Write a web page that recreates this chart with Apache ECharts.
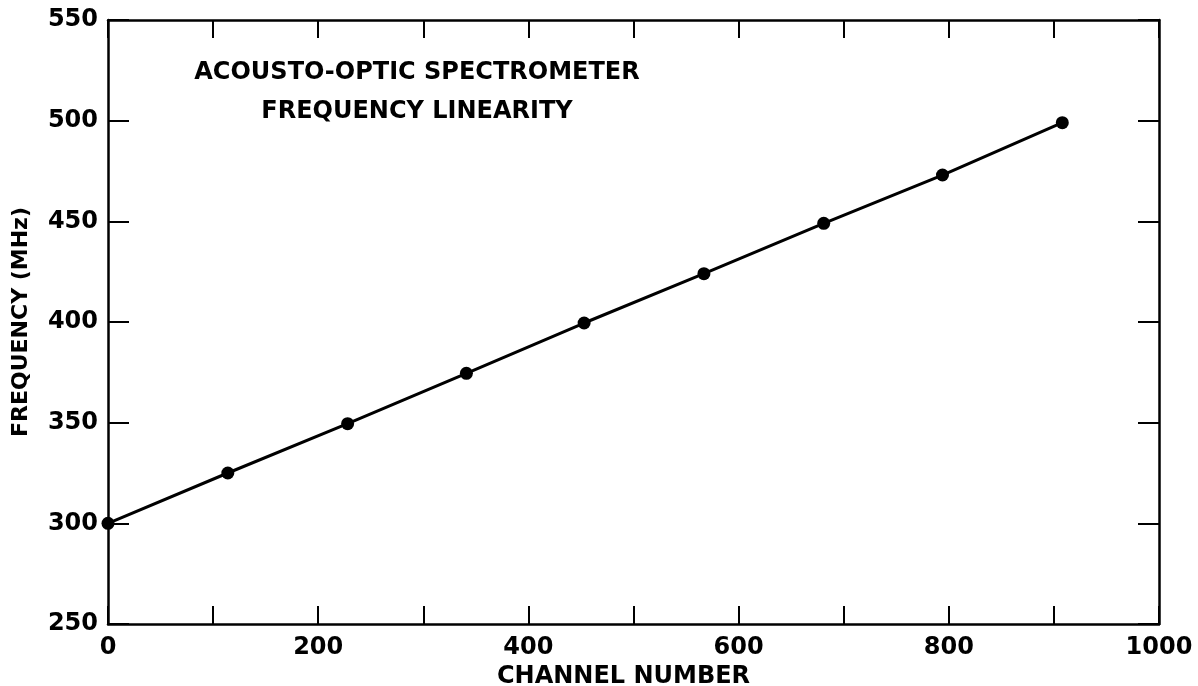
<!DOCTYPE html>
<html>
<head>
<meta charset="utf-8">
<script src="https://cdn.jsdelivr.net/npm/echarts@6/dist/echarts.min.js"></script>
<style>html,body{margin:0;padding:0;background:#fff}#c{width:1198px;height:686px}</style>
</head>
<body>
<div id="c"></div>
<script>
const channels = [0, 114, 228, 341, 453, 567, 681, 794, 908];
const frequencies = [300, 325, 349.5, 374.5, 399.5, 424, 449, 473, 499];
const xTicks = [0, 200, 400, 600, 800, 1000];
const yTicks = [250, 300, 350, 400, 450, 500, 550];
const titleLines = ['ACOUSTO-OPTIC SPECTROMETER', 'FREQUENCY LINEARITY'];

const FONT = 'DejaVu Sans';
const chart = echarts.init(document.getElementById('c'));
const axisLine = {show: true, onZero: false, lineStyle: {color: '#000', width: 2.5}};
const common = {
  splitLine: {show: false},
  axisLine: axisLine
};
chart.setOption({
  animation: false,
  backgroundColor: '#fff',
  grid: {left: 108, right: 39, top: 20, bottom: 62, containLabel: false, outerBoundsMode: 'none'},
  title: [{
    text: titleLines.join('\n'),
    left: 412, top: 48, textAlign: 'center',
    textStyle: {fontFamily: FONT, fontSize: 24, fontWeight: 'bold', color: '#000', lineHeight: 39}
  }],
  xAxis: [{
    type: 'value', min: 0, max: 1000, interval: 100, position: 'bottom',
    ...common,
    axisTick: {show: true, inside: true, length: 18, lineStyle: {color: '#000', width: 2}},
    axisLabel: {
      fontFamily: FONT, fontSize: 24, fontWeight: 'bold', color: '#000', margin: 12,
      formatter: v => xTicks.includes(v) ? String(v) : ''
    },
    name: 'CHANNEL NUMBER', nameLocation: 'middle', nameGap: 40,
    nameTextStyle: {fontFamily: FONT, fontSize: 24, fontWeight: 'bold', color: '#000', padding: [0, 20, 0, 0]}
  }, {
    type: 'value', min: 0, max: 1000, interval: 100, position: 'top',
    ...common,
    axisTick: {show: true, inside: true, length: 18, lineStyle: {color: '#000', width: 2}},
    axisLabel: {show: false}
  }],
  yAxis: [{
    type: 'value', min: 250, max: 550, interval: 50, position: 'left',
    ...common,
    axisTick: {show: true, inside: true, length: 21, lineStyle: {color: '#000', width: 2}},
    axisLabel: {
      fontFamily: FONT, fontSize: 24, fontWeight: 'bold', color: '#000', margin: 10,
      formatter: v => yTicks.includes(v) ? String(v) : ''
    },
    name: 'FREQUENCY (MHz)', nameLocation: 'middle', nameGap: 76, nameRotate: 90,
    nameTextStyle: {fontFamily: FONT, fontSize: 22, fontWeight: 'bold', color: '#000'}
  }, {
    type: 'value', min: 250, max: 550, interval: 50, position: 'right',
    ...common,
    axisTick: {show: true, inside: true, length: 21, lineStyle: {color: '#000', width: 2}},
    axisLabel: {show: false}
  }],
  series: [{
    type: 'line',
    xAxisIndex: 0, yAxisIndex: 0,
    data: channels.map((c, i) => [c, frequencies[i]]),
    symbol: 'circle', symbolSize: 13,
    itemStyle: {color: '#000'},
    lineStyle: {color: '#000', width: 3},
    clip: false
  }]
});
</script>
</body>
</html>
